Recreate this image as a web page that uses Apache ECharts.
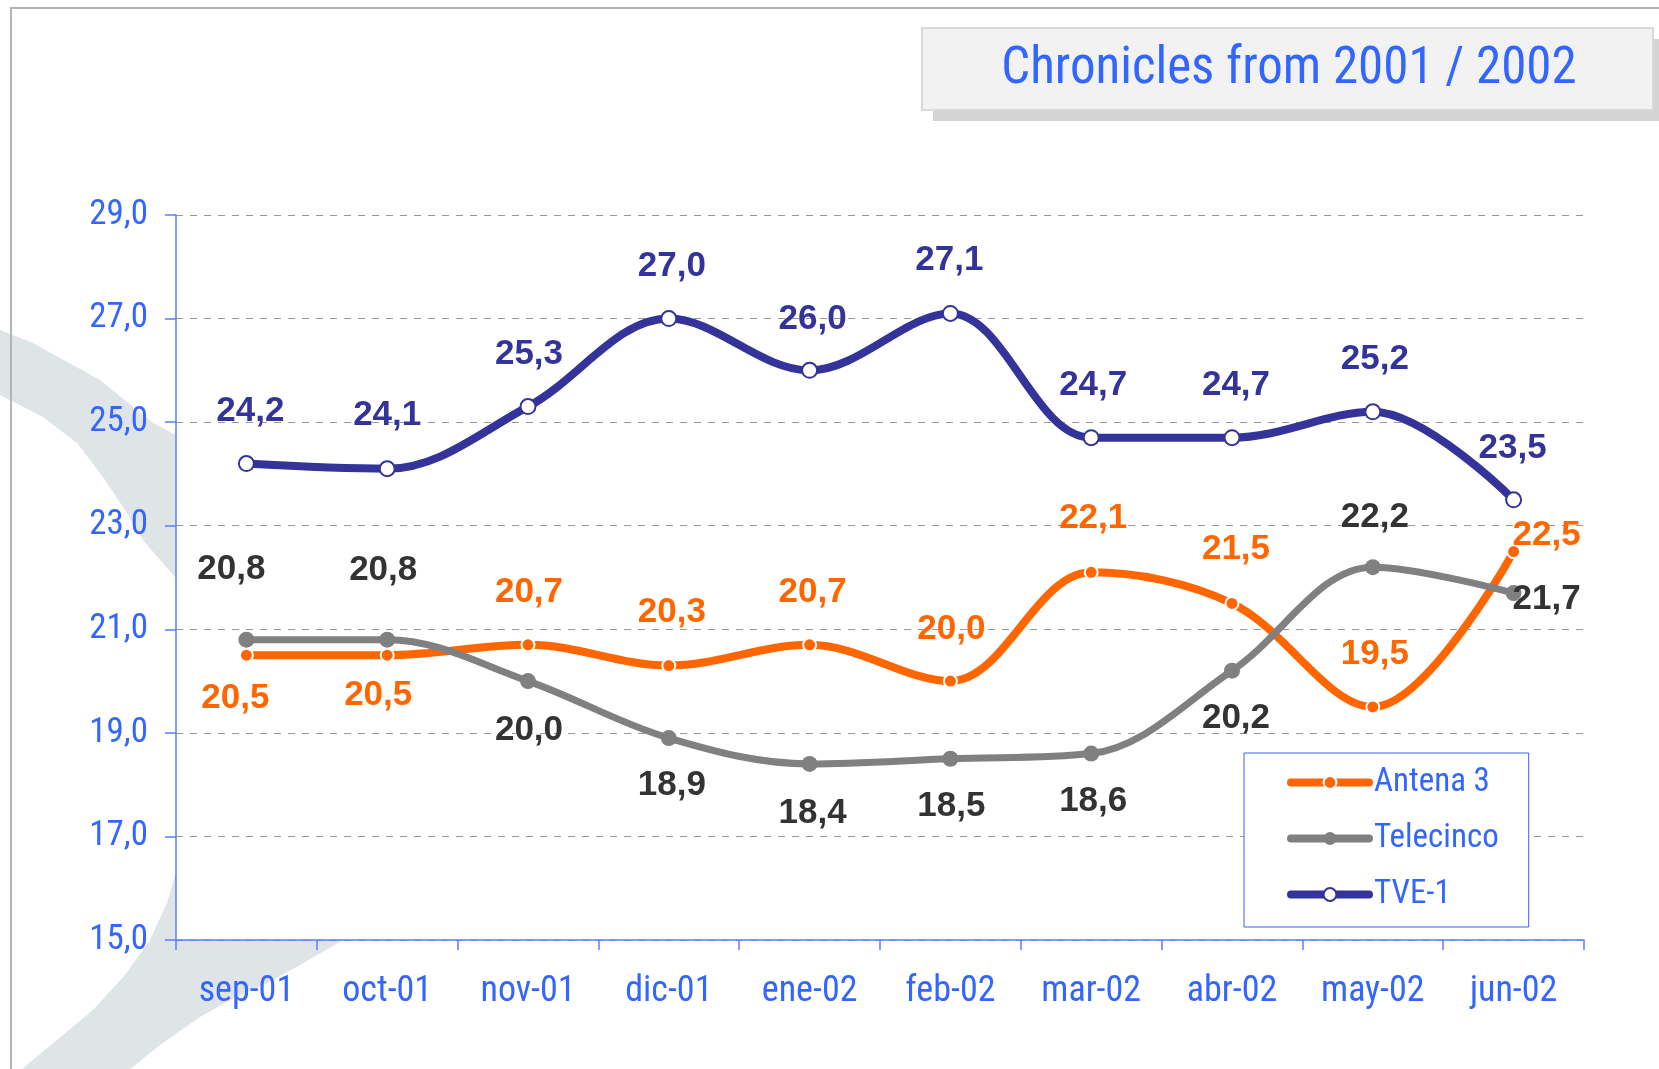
<!DOCTYPE html>
<html lang="es">
<head>
    <meta charset="UTF-8">
    <title>Chronicles from 2001 / 2002</title>
    <script src="https://cdn.jsdelivr.net/npm/echarts@6/dist/echarts.min.js"></script>
    <style>
        html, body { margin: 0; padding: 0; background: #fff; }
        #main { width: 1659px; height: 1069px; }
    </style>
</head>
<body>
<div id="main"></div>
<script>
    // datos del gráfico
    var months = ['sep-01', 'oct-01', 'nov-01', 'dic-01', 'ene-02', 'feb-02', 'mar-02', 'abr-02', 'may-02', 'jun-02'];
    var antena3 = [20.5, 20.5, 20.7, 20.3, 20.7, 20.0, 22.1, 21.5, 19.5, 22.5];
    var telecinco = [20.8, 20.8, 20.0, 18.9, 18.4, 18.5, 18.6, 20.2, 22.2, 21.7];
    var tve1 = [24.2, 24.1, 25.3, 27.0, 26.0, 27.1, 24.7, 24.7, 25.2, 23.5];
    var seriesNames = ['Antena 3', 'Telecinco', 'TVE-1'];

    // desplazamiento de las etiquetas respecto al punto
    var offA3 = [[-11, 43], [-9, 40], [1, -52], [3, -53], [3, -52], [1, -52], [2, -54], [4, -54], [2, -53], [33, -16]];
    var offT5 = [[-15, -70], [-4, -69], [1, 49], [3, 47], [3, 49], [1, 48], [2, 48], [4, 48], [2, -50], [33, 6]];
    var offTVE = [[4, -52], [0, -53], [1, -52], [3, -52], [3, -51], [-1, -53], [2, -52], [4, -52], [2, -52], [-1, -51]];

    var narrow = "'Liberation Sans Narrow', 'Arial Narrow', 'Roboto Condensed', sans-serif";
    var blue = '#3366ff';

    function fmt(v) {
        return v.toFixed(1).replace('.', ',');
    }

    function buildData(values, offs) {
        var out = [];
        for (var i = 0; i < values.length; i++) {
            out.push({ value: values[i], label: { offset: offs[i] } });
        }
        return out;
    }

    function labelStyle(color) {
        return {
            show: true,
            position: 'inside',
            color: color,
            fontFamily: "'Liberation Sans', Arial, sans-serif",
            fontWeight: 'bold',
            fontSize: 35,
            formatter: function (p) { return fmt(p.value); }
        };
    }

    // mancha gris del fondo (parte izquierda y parte inferior)
    var swooshTop = [
        [-5, 325], [0, 330], [33, 343], [100, 380], [153, 423], [176, 435], [240, 480], [260, 560],
        [200, 600], [176, 578], [160, 560], [143, 540], [127, 513], [103, 477], [77, 443],
        [43, 417], [0, 395], [-5, 392]
    ];
    var swooshBottom = [
        [230, 860], [300, 900], [343, 940], [300, 965], [267, 983], [230, 1000], [200, 1017],
        [160, 1045], [130, 1069], [120, 1080], [15, 1080], [22, 1069], [57, 1040], [93, 1010],
        [125, 975], [150, 940], [167, 903], [178, 865], [200, 840]
    ];

    var myChart = echarts.init(document.getElementById('main'));
    var option = {
        backgroundColor: '#fff',
        animation: false,
        graphic: [
            { type: 'polygon', z: -10, silent: true, shape: { points: swooshTop }, style: { fill: '#dfe4e6' } },
            { type: 'polygon', z: -10, silent: true, shape: { points: swooshBottom }, style: { fill: '#dfe4e6' } },
            { type: 'rect', z: -9, silent: true, shape: { x: 12, y: 592, width: 163, height: 258 }, style: { fill: '#fff' } },
            { type: 'line', z: 5, shape: { x1: 10, y1: 8, x2: 1659, y2: 8 }, style: { stroke: '#b4b4b4', lineWidth: 2 } },
            { type: 'line', z: 5, shape: { x1: 11, y1: 8, x2: 11, y2: 1069 }, style: { stroke: '#b4b4b4', lineWidth: 2 } },
            { type: 'rect', z: 5, shape: { x: 933, y: 39, width: 740, height: 82 }, style: { fill: '#d4d4d4' } },
            { type: 'rect', z: 6, shape: { x: 922, y: 28, width: 731, height: 82 }, style: { fill: '#f2f2f2', stroke: '#d9d9d9', lineWidth: 2 } },
            {
                type: 'text', z: 7, x: 1289, y: 70,
                style: {
                    text: 'Chronicles from 2001 / 2002', fill: blue, fontFamily: narrow, fontSize: 51,
                    align: 'center', verticalAlign: 'middle'
                }
            }
        ],
        legend: {
            orient: 'vertical',
            left: 1244,
            top: 753,
            padding: [13, 30, 16, 43],
            itemWidth: 78,
            itemHeight: 16,
            itemGap: 23,
            backgroundColor: '#fff',
            borderColor: blue,
            borderWidth: 1,
            data: seriesNames,
            lineStyle: { width: 8, cap: 'round' },
            textStyle: { color: blue, fontFamily: narrow, fontSize: 33 }
        },
        grid: {
            left: 176, right: 75, top: 215, bottom: 129,
            show: true, backgroundColor: '#fff', borderWidth: 0
        },
        xAxis: {
            type: 'category',
            data: months,
            boundaryGap: true,
            axisLine: { lineStyle: { color: '#5a7dff', width: 1.5 } },
            axisTick: { show: true, length: 10, lineStyle: { color: '#5a7dff', width: 1.5 } },
            axisLabel: { color: blue, fontFamily: narrow, fontSize: 36, margin: 34 },
            splitLine: { show: false }
        },
        yAxis: {
            type: 'value',
            min: 15, max: 29, interval: 2,
            axisLine: { show: true, lineStyle: { color: '#5a7dff', width: 1.5 } },
            axisTick: { show: true, length: 11, lineStyle: { color: '#5a7dff', width: 1.5 } },
            axisLabel: { color: blue, fontFamily: narrow, fontSize: 35, margin: 28, formatter: fmt },
            splitLine: { lineStyle: { color: '#999', type: [7, 7], width: 1 } }
        },
        series: [
            {
                name: 'Antena 3', type: 'line', smooth: 0.35, smoothMonotone: 'none',
                symbol: 'circle', symbolSize: 13,
                lineStyle: { color: '#ff6600', width: 8 },
                itemStyle: { color: '#ff6600', borderColor: '#fff', borderWidth: 2 },
                label: labelStyle('#ff6600'),
                data: buildData(antena3, offA3)
            },
            {
                name: 'Telecinco', type: 'line', smooth: 0.35, smoothMonotone: 'none',
                symbol: 'circle', symbolSize: 16,
                lineStyle: { color: '#808080', width: 7 },
                itemStyle: { color: '#808080' },
                label: labelStyle('#333333'),
                data: buildData(telecinco, offT5)
            },
            {
                name: 'TVE-1', type: 'line', smooth: 0.35, smoothMonotone: 'none',
                symbol: 'emptyCircle', symbolSize: 15,
                lineStyle: { color: '#333399', width: 8 },
                itemStyle: { color: '#333399', borderWidth: 2.5 },
                label: labelStyle('#333399'),
                data: buildData(tve1, offTVE)
            }
        ]
    };
    myChart.setOption(option);
</script>
</body>
</html>
